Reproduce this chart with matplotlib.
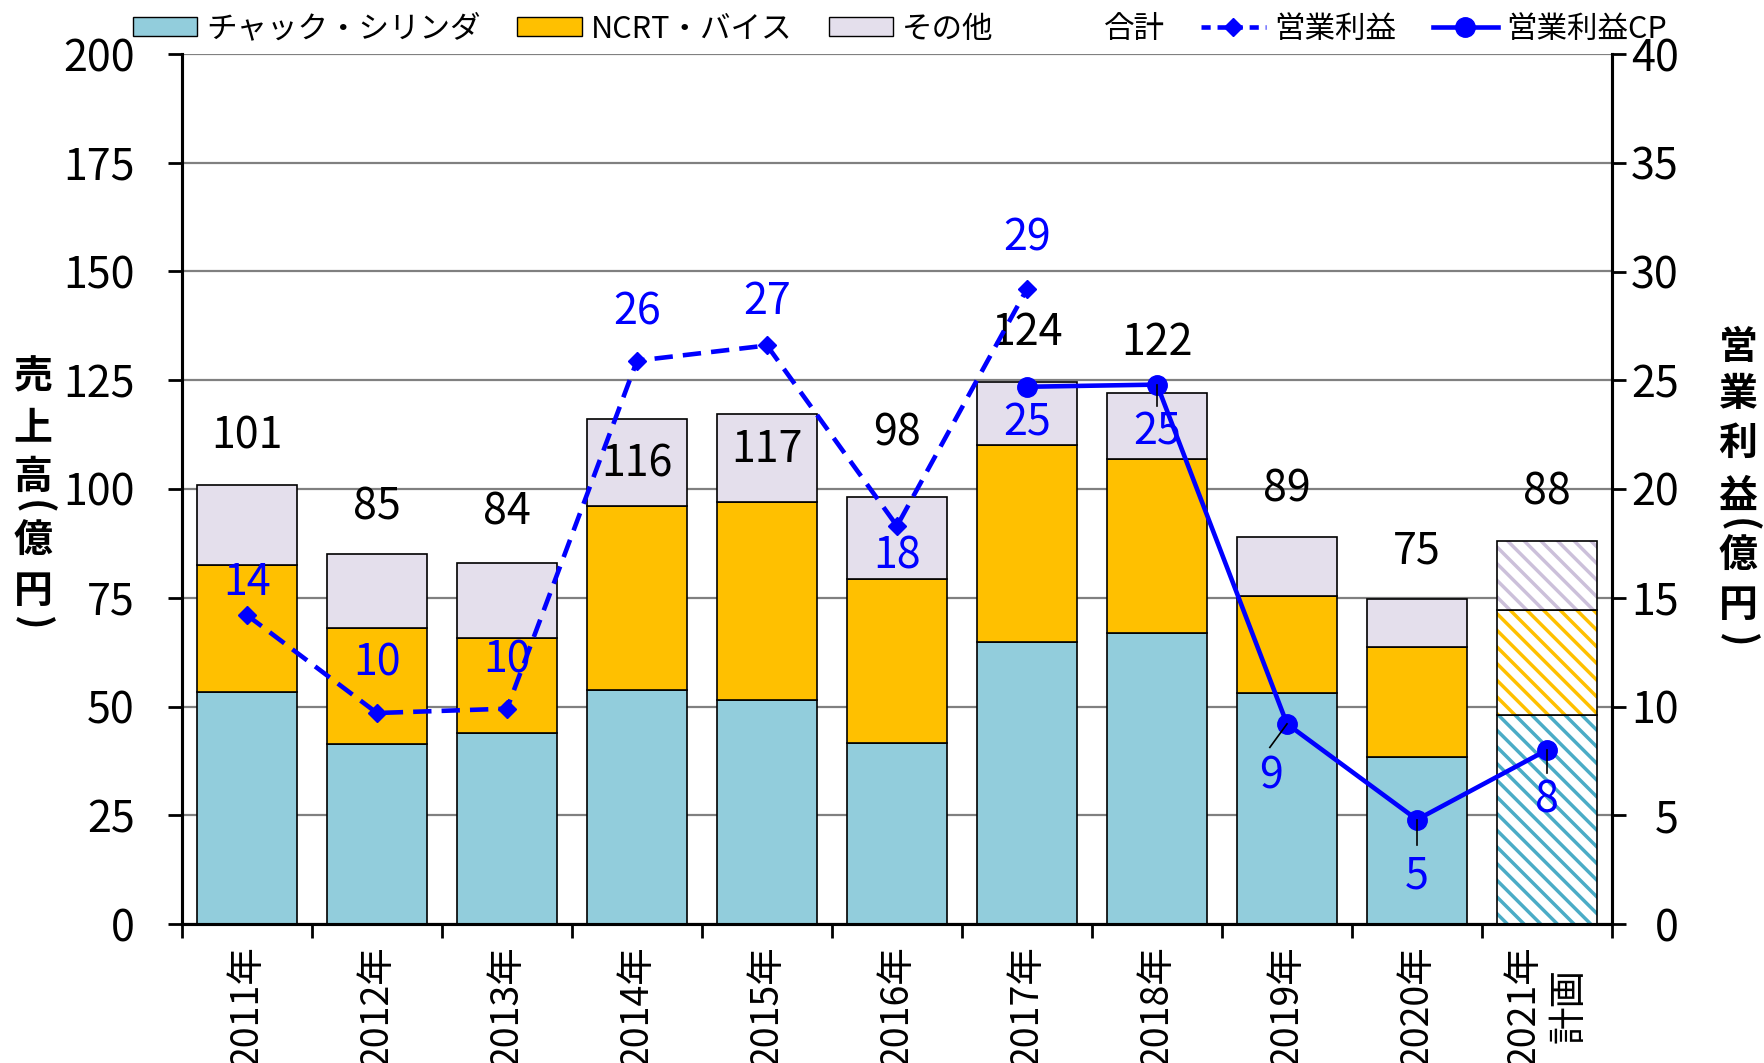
import matplotlib
matplotlib.use("Agg")
import matplotlib.pyplot as plt
from matplotlib.lines import Line2D
from matplotlib.patches import Patch

plt.rcParams['font.family'] = ['Noto Sans CJK JP', 'DejaVu Sans']
plt.rcParams['hatch.linewidth'] = 2.5

# data (億円)
years = ['2011年', '2012年', '2013年', '2014年', '2015年', '2016年',
         '2017年', '2018年', '2019年', '2020年', '2021年\n計画']
chuck = [53.3, 41.4, 44.0, 53.8, 51.5, 41.7, 64.9, 66.8, 53.0, 38.3, 48.1]
ncrt = [29.2, 26.6, 21.7, 42.2, 45.5, 37.7, 45.3, 40.1, 22.5, 25.3, 24.1]
other = [18.4, 17.1, 17.4, 20.2, 20.2, 18.7, 14.3, 15.2, 13.5, 11.2, 15.8]
totals = [101, 85, 84, 116, 117, 98, 124, 122, 89, 75, 88]

op_idx = [0, 1, 2, 3, 4, 5, 6]
op_profit = [14.2, 9.7, 9.9, 25.9, 26.6, 18.3, 29.2]
op_labels = [14, 10, 10, 26, 27, 18, 29]

cp_idx = [6, 7, 8, 9, 10]
cp_profit = [24.7, 24.8, 9.2, 4.8, 8.0]
cp_labels = [25, 25, 9, 5, 8]

# label placement (layout only)
total_label_y = [112, 95.7, 94.7, 105.6, 109, 112.8, 135.8, 133.5, 99.9, 85.6, 99.1]
op_label_y = [15.7, 12.0, 12.1, 28.1, 28.6, 16.9, 31.5]
cp_label_y = [23.0, 22.6, 6.8, 2.2, 5.7]
cp_label_dx = [0, 0, -0.12, 0, 0]
cp_leader = [False, True, True, True, True]

c_chuck, c_ncrt, c_other = '#92CDDC', '#FFC000', '#E4DFEC'
h_chuck, h_ncrt, h_other = '#4BACC6', '#FFC000', '#CCC0DA'
blue = '#0000FF'

fig = plt.figure(figsize=(17.65, 10.63), dpi=100)
ax = fig.add_axes([182/1765, 1-924/1063, (1612-182)/1765, (924-54)/1063])
ax2 = ax.twinx()

x = list(range(len(years)))
w = 0.77
n = len(years) - 1  # last bar is the plan (hatched)

bottoms = [0]*len(years)
for vals, col, hcol in [(chuck, c_chuck, h_chuck), (ncrt, c_ncrt, h_ncrt), (other, c_other, h_other)]:
    ax.bar(x[:n], vals[:n], w, bottom=bottoms[:n], color=col, edgecolor='black', linewidth=1.2, zorder=2)
    ax.bar(x[n], vals[n], w, bottom=bottoms[n], color='white', edgecolor=hcol, hatch='\\\\',
           linewidth=0, zorder=2)
    ax.bar(x[n], vals[n], w, bottom=bottoms[n], fill=False, edgecolor='black', linewidth=1.2, zorder=2)
    bottoms = [b + v for b, v in zip(bottoms, vals)]

for i, t in enumerate(totals):
    ax.text(i, total_label_y[i], str(t), ha='center', va='center', fontsize=31, color='black', zorder=5)

ax.set_xlim(-0.5, 10.5)
ax.set_ylim(0, 200)
ax.set_yticks(range(0, 201, 25))
ax.grid(axis='y', color='#808080', linewidth=1.6)
ax.set_axisbelow(True)
ax.set_xticks(x)
ax.set_xticklabels(years, rotation=90, va='top', ha='center', multialignment='center', fontsize=27)
ax.set_xticks([i - 0.5 for i in range(len(years) + 1)], minor=True)
ax.tick_params(axis='x', which='major', length=0, pad=15)
ax.tick_params(axis='x', which='minor', length=10, width=2, direction='out')
ax.tick_params(axis='y', length=10, width=2, direction='out', labelsize=31, pad=24)

ax2.plot(op_idx, op_profit, color=blue, linewidth=3.3, linestyle=(0, (4, 2.2)),
         marker='D', markersize=9, zorder=4)
ax2.plot(cp_idx, cp_profit, color=blue, linewidth=3.3, marker='o', markersize=14, zorder=4)
for i, v, ly in zip(op_idx, op_labels, op_label_y):
    ax2.text(i, ly, str(v), ha='center', va='center', fontsize=31, color=blue, zorder=5)
for i, p, v, ly, dx, lead in zip(cp_idx, cp_profit, cp_labels, cp_label_y, cp_label_dx, cp_leader):
    ax2.text(i + dx, ly, str(v), ha='center', va='center', fontsize=31, color=blue, zorder=5)
    if lead:
        ax2.plot([i, i + dx * 1.1], [p, p + (ly - p) * 0.45], color='black', linewidth=1.2, zorder=5)
ax2.set_ylim(0, 40)
ax2.set_yticks(range(0, 41, 5))
ax2.tick_params(axis='y', length=10, width=2, direction='out', labelsize=31, pad=38)
for lbl in ax2.get_yticklabels():
    lbl.set_horizontalalignment('right')

for a in (ax, ax2):
    a.spines['top'].set_visible(False)
    for s in ('left', 'right', 'bottom'):
        a.spines[s].set_linewidth(2.2)

# vertical axis titles, one character per text
left_chars = ['売', '上', '高', '(', '億', '円', ')']
left_y = [377, 428, 477, 507, 540, 592, 623]
right_chars = ['営', '業', '利', '益', '(', '億', '円', ')']
right_y = [347, 395, 443, 496, 525, 555, 605, 640]
for chars, ys, xc in [(left_chars, left_y, 33), (right_chars, right_y, 1738)]:
    for ch, yy in zip(chars, ys):
        rot = -90 if ch in '()' else 0
        fig.text(xc/1765, 1-yy/1063, ch, ha='center', va='center', rotation=rot,
                 fontsize=28, fontweight='bold')

handles = [
    Patch(facecolor=c_chuck, edgecolor='black', linewidth=1),
    Patch(facecolor=c_ncrt, edgecolor='black', linewidth=1),
    Patch(facecolor=c_other, edgecolor='black', linewidth=1),
    Patch(facecolor='none', edgecolor='none'),
    Line2D([], [], color=blue, linewidth=3.3, linestyle=(0, (2, 1.5)), marker='D', markersize=9),
    Line2D([], [], color=blue, linewidth=3.3, marker='o', markersize=14),
]
labels = ['チャック・シリンダ', 'NCRT・バイス', 'その他', '合計', '営業利益', '営業利益CP']
fig.legend(handles, labels, loc='center', bbox_to_anchor=(0.51, 1-29/1063), ncol=6,
           frameon=False, fontsize=22, handlelength=2.1, handleheight=0.6,
           handletextpad=0.3, columnspacing=1.2, borderpad=0)

fig.savefig('out.png', dpi=100)
